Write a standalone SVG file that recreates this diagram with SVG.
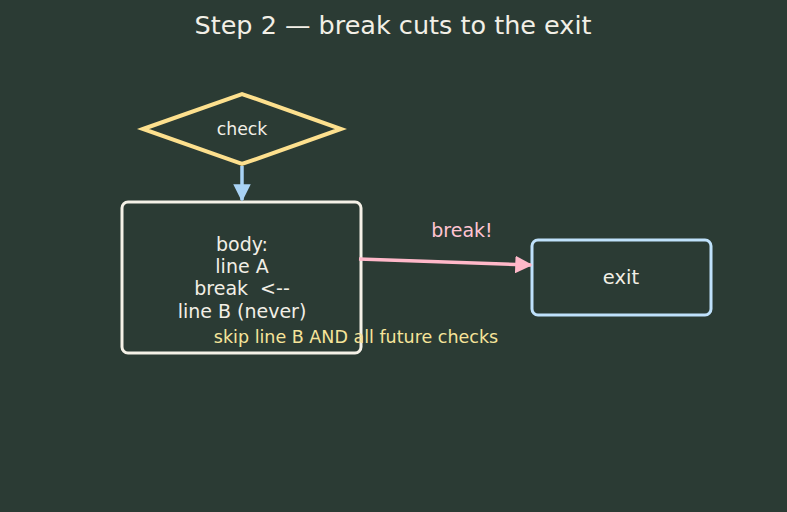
<svg xmlns="http://www.w3.org/2000/svg" width="787" height="512" viewBox="0 0 787 512" font-family="'DejaVu Sans', 'Liberation Sans', sans-serif">
<style>
text{font-family:"DejaVu Sans","Liberation Sans",sans-serif;text-anchor:middle;dominant-baseline:central;white-space:pre}
.lbl{fill:#f2efe6}
</style>
<defs>
<marker id="ab" viewBox="0 0 10 10" refX="9" refY="5" markerWidth="5" markerHeight="5" orient="auto" markerUnits="strokeWidth"><path d="M0,0L10,5L0,10z" fill="#a9d3f5"/></marker>
<marker id="ap" viewBox="0 0 10 10" refX="9" refY="5" markerWidth="5" markerHeight="5" orient="auto" markerUnits="strokeWidth"><path d="M0,0L10,5L0,10z" fill="#ffb8c9"/></marker>
</defs>
<rect width="787" height="512" fill="#2b3b34"/>
<text x="393" y="25" class="lbl" font-size="25.5">Step 2 — break cuts to the exit</text>
<g id="check">
<polygon points="143,129 242,94 341,129 242,164" fill="none" stroke="#fde08e" stroke-width="4"/>
<text x="242" y="129" class="lbl" font-size="17.3">check</text>
</g>
<g id="body">
<rect x="122" y="202" width="239" height="151" rx="6" fill="none" stroke="#f5f1e7" stroke-width="3"/>
<text class="lbl" font-size="19" xml:space="preserve"><tspan x="242" y="244">body:</tspan><tspan x="242" y="266">line A</tspan><tspan x="242" y="288">break  &lt;--</tspan><tspan x="242" y="311">line B (never)</tspan></text>
</g>
<g id="exit">
<rect x="532" y="240" width="179" height="75" rx="6" fill="none" stroke="#bfe1fb" stroke-width="3"/>
<text x="621" y="277" class="lbl" font-size="19.5">exit</text>
</g>
<g id="connectors">
<line x1="242" y1="166" x2="242" y2="200" stroke="#a9d3f5" stroke-width="3.5" marker-end="url(#ab)"/>
<line x1="359" y1="259" x2="531" y2="265" stroke="#ffb8c9" stroke-width="3.5" marker-end="url(#ap)"/>
<text x="462" y="230" fill="#ffc4d2" font-size="19">break!</text>
</g>
<text x="356" y="337" fill="#f6e49a" font-size="17.5">skip line B AND all future checks</text>
</svg>
